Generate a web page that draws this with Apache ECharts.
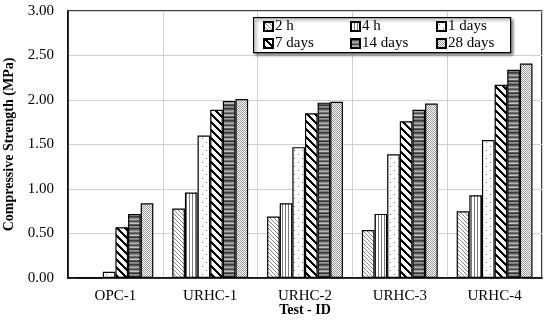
<!DOCTYPE html>
<html><head><meta charset="utf-8">
<script src="https://cdn.jsdelivr.net/npm/echarts@6/dist/echarts.min.js"></script>
<style>html,body{margin:0;padding:0;background:#fff}#c{width:550px;height:325px}</style>
</head><body><div id="c"></div>
<script>
const categories = ['OPC-1','URHC-1','URHC-2','URHC-3','URHC-4'];
const seriesNames = ['2 h','4 h','1 days','7 days','14 days','28 days'];
const v2h   = [0.00, 0.78, 0.69, 0.54, 0.75];
const v4h   = [0.00, 0.96, 0.84, 0.72, 0.93];
const v1d   = [0.07, 1.60, 1.47, 1.39, 1.55];
const v7d   = [0.57, 1.89, 1.85, 1.76, 2.17];
const v14d  = [0.72, 1.99, 1.97, 1.89, 2.34];
const v28d  = [0.84, 2.01, 1.98, 1.96, 2.41];
const yTicks = [0, 0.5, 1, 1.5, 2, 2.5, 3];

function pat(w, h, fn) {
  const c = document.createElement('canvas'); c.width = w; c.height = h;
  const ctx = c.getContext('2d');
  ctx.fillStyle = '#fff'; ctx.fillRect(0, 0, w, h);
  for (let y = 0; y < h; y++) for (let x = 0; x < w; x++) {
    const col = fn(x, y); if (col) { ctx.fillStyle = col; ctx.fillRect(x, y, 1, 1); }
  }
  return { image: c, repeat: 'repeat' };
}
const bands = ['#3a3a3a','#5a5a5a','#8a8a8a','#b0b0b0','#707070','#4a4a4a','#999','#c0c0c0','#606060','#2e2e2e','#9a9a9a','#7a7a7a'];
const patterns = [
  pat(4, 4, (x, y) => ((x - y + 8) % 4 === 0 ? '#8a8a8a' : null)),
  pat(3, 3, (x, y) => (x % 3 === 0 ? '#7a7a7a' : null)),
  pat(8, 8, (x, y) => ((x === 2 && y === 2) || (x === 6 && y === 6) ? '#777' : null)),
  pat(8, 8, (x, y) => (((x - y + 16) % 8) < 3 ? '#000' : null)),
  pat(1, 12, (x, y) => bands[y]),
  pat(2, 2, (x, y) => ((x + y) % 2 === 0 ? '#9a9a9a' : null))
];
const values = [v2h, v4h, v1d, v7d, v14d, v28d];
const font = 'Liberation Serif';

const legendCols = [[0, 3], [1, 4], [2, 5]];
const colLeft = [263, 350, 436];

const chart = echarts.init(document.getElementById('c'));
chart.setOption({
  animation: false,
  textStyle: { fontFamily: font },
  grid: { left: 68, right: 8, top: 11, bottom: 47, outerBoundsMode: 'none', containLabel: false,
          show: true, borderColor: '#000', borderWidth: 1.5, backgroundColor: 'transparent' },
  xAxis: {
    type: 'category', data: categories,
    name: 'Test - ID', nameLocation: 'middle', nameGap: 25, nameMoveOverlap: false,
    nameTextStyle: { fontFamily: font, fontWeight: 'bold', fontSize: 14, color: '#000' },
    axisLine: { lineStyle: { color: '#000', width: 1.5 } },
    axisTick: { inside: true, length: 4, lineStyle: { color: '#000' } },
    axisLabel: { fontFamily: font, fontSize: 15, color: '#000', margin: 11 },
    splitLine: { show: true, lineStyle: { color: '#d0d0d0', width: 1 } }
  },
  yAxis: {
    type: 'value', min: 0, max: 3, interval: 0.5,
    name: 'Compressive Strength (MPa)', nameLocation: 'middle', nameGap: 52, nameMoveOverlap: false,
    nameTextStyle: { fontFamily: font, fontWeight: 'bold', fontSize: 14, color: '#000' },
    axisLine: { show: true, lineStyle: { color: '#000', width: 1.5 } },
    axisTick: { show: false },
    axisLabel: { fontFamily: font, fontSize: 15, color: '#000', margin: 14, formatter: v => v.toFixed(2) },
    splitLine: { lineStyle: { color: '#d0d0d0', width: 1 } }
  },
  graphic: [{
    type: 'rect', left: 253, top: 17, z: 5,
    shape: { width: 257, height: 35 },
    style: { fill: '#fff', stroke: '#000', lineWidth: 1.2, shadowBlur: 3, shadowOffsetX: 2, shadowOffsetY: 2, shadowColor: 'rgba(0,0,0,0.5)' }
  }],
  legend: legendCols.map((idx, k) => ({
    data: idx.map(i => seriesNames[i]), orient: 'vertical', left: colLeft[k], top: 19, z: 6,
    icon: 'rect', itemWidth: 9, itemHeight: 9, itemGap: 2, padding: 0,
    textStyle: { fontFamily: font, fontSize: 15, color: '#000', padding: [0, 0, 0, -3] }
  })),
  series: seriesNames.map((n, i) => ({
    name: n, type: 'bar', data: values[i],
    barGap: '0%', barCategoryGap: '20%',
    itemStyle: { color: patterns[i], borderColor: '#000', borderWidth: 1.2 }
  }))
});
</script></body></html>
